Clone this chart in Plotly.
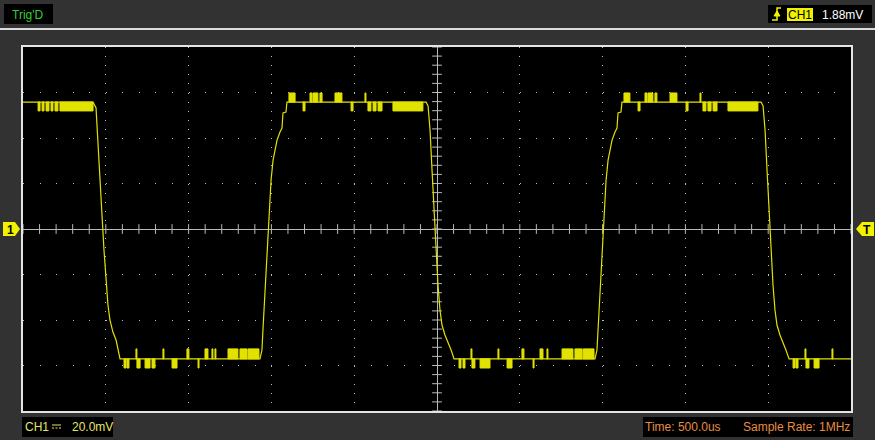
import numpy as np
import plotly.graph_objects as go

# ---------------- data (time in microseconds, voltage in mV) ----------------
wave_t = [-2500, -2077, -2059, -2047, -2035, -2023, -2011, -1999, -1987, -1975, -1957, -1938, -1926, -1914,
          -1069, -1057, -1051, -1039, -1027, -1014, -1002, -990, -978, -966, -948, -936, -930, -912, -906,
          -66, -54, -42, -30, -18, -6, 6, 18, 30, 48, 66, 85, 103,
          954, 966, 972, 984, 996, 1008, 1021, 1033, 1045, 1057, 1075, 1087, 1093, 1111, 1117,
          1957, 1969, 1981, 1993, 2005, 2017, 2029, 2041, 2053, 2071, 2089, 2107, 2126, 2500]
wave_v = [55.8, 55.8, 53.2, 39.1, 21.5, 6.2, -9.2, -22.4, -33.4, -40.0, -45.3, -48.8, -53.2, -57.1,
          -57.1, -53.2, -44.4, -26.8, -9.2, 8.4, 21.5, 30.3, 35.6, 39.1, 42.6, 44.4, 51.0, 51.4, 55.8,
          55.8, 54.1, 43.5, 25.9, 8.4, -9.2, -24.6, -35.6, -42.2, -46.6, -49.7, -53.2, -57.1,
          -57.1, -53.2, -44.4, -26.8, -9.2, 8.4, 21.5, 30.3, 35.6, 39.1, 42.6, 44.4, 51.0, 51.4, 55.8,
          55.8, 54.1, 43.5, 25.9, 8.4, -9.2, -24.6, -35.6, -42.2, -46.6, -49.7, -53.2, -57.1, -57.1]

# quantisation noise bursts: start time, end time, base level, excursion level
noise_t0 = [-2409, -2385, -2361, -2331, -2307, -2277,
            -1890, -1872, -1812, -1763, -1721, -1600, -1443,
            -1818, -1655, -1510, -1401, -1359, -1341, -1262, -1190, -1141,
            -894, -767, -749, -707, -616, -435,
            -809, -519, -417, -386, -356, -266,
            133, 157, 211, 260, 423, 580,
            205, 368, 513, 622, 664, 755, 833, 882,
            1129, 1256, 1274, 1316, 1407, 1588,
            1214, 1504, 1606, 1636, 1667, 1757,
            2150, 2168, 2228, 2277,
            2222, 2385]
noise_t1 = [-2397, -2373, -2343, -2319, -2289, -2077,
            -1878, -1860, -1793, -1733, -1703, -1570, -1437,
            -1812, -1649, -1498, -1383, -1353, -1335, -1202, -1147, -1075,
            -857, -755, -719, -694, -574, -429,
            -797, -507, -399, -368, -332, -85,
            145, 169, 229, 320, 453, 586,
            211, 374, 525, 640, 670, 821, 876, 948,
            1165, 1268, 1304, 1328, 1449, 1594,
            1226, 1516, 1624, 1655, 1691, 1938,
            2162, 2180, 2246, 2307,
            2228, 2391]
noise_base = [55.8] * 6 + [-57.1] * 7 + [-57.1] * 9 + [55.8] * 6 + [55.8] * 6 + \
             [-57.1] * 6 + [-57.1] * 8 + [55.8] * 6 + [55.8] * 6 + [-57.1] * 4 + [-57.1] * 2
noise_peak = [51.9] * 6 + [-61.1] * 7 + [-52.7] * 9 + [59.8] * 6 + [51.9] * 6 + \
             [-61.1] * 6 + [-52.7] * 8 + [59.8] * 6 + [51.9] * 6 + [-61.1] * 4 + [-52.7] * 2

x_range = [-2500, 2500]      # 500 us/div, 10 divisions
y_range = [-80, 80]          # 20 mV/div, 8 divisions

header_left = "Trig'D"
header_ch = "CH1"
header_level = "1.88mV"
footer_ch = "CH1"
footer_volts = "20.0mV"
footer_time = "Time: 500.0us"
footer_rate = "Sample Rate: 1MHz"

# ---------------- layout geometry ----------------
W, H = 875, 440
ML, MR, MT, MB = 23, 24, 47, 29
PW, PH = W - ML - MR, H - MT - MB


def fx(x):
    return (x - ML) / PW


def fy(y):
    return (H - MB - y) / PH


FONT = "Liberation Sans, Arial, sans-serif"
YEL = "#e2e200"
GRID = "#b8b8b8"

fig = go.Figure()

# crosshair tick marks (every 0.2 division)
tx = np.arange(x_range[0], x_range[1] + 1, 100)
ty = np.arange(y_range[0], y_range[1] + 1, 4)
fig.add_trace(go.Scatter(x=tx, y=np.zeros_like(tx), mode="markers",
                         marker=dict(symbol="line-ns", size=7, line=dict(color=GRID, width=1)),
                         hoverinfo="skip", showlegend=False))
fig.add_trace(go.Scatter(x=np.zeros_like(ty), y=ty, mode="markers",
                         marker=dict(symbol="line-ew", size=7, line=dict(color=GRID, width=1)),
                         hoverinfo="skip", showlegend=False))

# noise bursts as filled blocks
bx, by = [], []
for t0, t1, b, p in zip(noise_t0, noise_t1, noise_base, noise_peak):
    bx += [t0, t1, t1, t0, t0, None]
    by += [b, b, p, p, b, None]
fig.add_trace(go.Scatter(x=bx, y=by, mode="lines", fill="toself", fillcolor=YEL,
                         line=dict(color=YEL, width=1), hoverinfo="skip", showlegend=False))

# main waveform
fig.add_trace(go.Scatter(x=wave_t, y=wave_v, mode="lines",
                         line=dict(color=YEL, width=1.2), hoverinfo="skip", showlegend=False))

axis_common = dict(showticklabels=False, ticks="", showline=True, mirror=True,
                   linecolor="#e4e4e4", linewidth=2, zeroline=True,
                   zerolinecolor=GRID, zerolinewidth=1, showgrid=True, gridcolor=GRID,
                   gridwidth=1, fixedrange=True)
fig.update_xaxes(range=x_range, dtick=500, tick0=0,
                 griddash="1px,%.2fpx" % (PH / 40 - 1), **axis_common)
fig.update_yaxes(range=y_range, dtick=20, tick0=0,
                 griddash="1px,%.2fpx" % (PW / 50 - 1), **axis_common)

shapes = []
# header separator line
shapes.append(dict(type="line", xref="paper", yref="paper", x0=fx(0), x1=fx(875),
                   y0=fy(29), y1=fy(29), line=dict(color="#dcdcdc", width=2)))
# black text boxes
for (x0, y0, x1, y1) in [(4, 4, 53, 24), (768, 5, 872, 23), (22, 417, 113, 437), (643, 417, 853, 437)]:
    shapes.append(dict(type="rect", xref="paper", yref="paper", x0=fx(x0), x1=fx(x1),
                       y0=fy(y1), y1=fy(y0), fillcolor="black", line=dict(width=0)))
# yellow CH1 highlight
shapes.append(dict(type="rect", xref="paper", yref="paper", x0=fx(787), x1=fx(813),
                   y0=fy(21), y1=fy(8), fillcolor="#f2f200", line=dict(width=0)))


def path(points, close=True):
    s = "M " + " L ".join("%.5f,%.5f" % (fx(a), fy(b)) for a, b in points)
    return s + (" Z" if close else "")


# trigger edge icon
shapes.append(dict(type="path", xref="paper", yref="paper",
                   path=path([(772, 20), (777, 20), (777, 8), (781, 8)], close=False),
                   line=dict(color="#f2f200", width=1.5)))
shapes.append(dict(type="path", xref="paper", yref="paper",
                   path=path([(774, 16), (777, 11), (780, 16)]),
                   fillcolor="#f2f200", line=dict(color="#f2f200", width=1)))
# DC coupling symbol
shapes.append(dict(type="line", xref="paper", yref="paper", x0=fx(52), x1=fx(61),
                   y0=fy(425), y1=fy(425), line=dict(color="#e6e664", width=1)))
for a in (52, 55.5, 59):
    shapes.append(dict(type="line", xref="paper", yref="paper", x0=fx(a), x1=fx(a + 2),
                       y0=fy(428), y1=fy(428), line=dict(color="#e6e664", width=1)))
# channel marker and trigger marker
shapes.append(dict(type="path", xref="paper", yref="paper",
                   path=path([(3, 222), (15, 222), (20, 229), (15, 236), (3, 236)]),
                   fillcolor="#f2f200", line=dict(width=0)))
shapes.append(dict(type="path", xref="paper", yref="paper",
                   path=path([(874, 222), (862, 222), (856, 229), (862, 236), (874, 236)]),
                   fillcolor="#f2f200", line=dict(width=0)))

annotations = []


def note(text, x, y, color, anchor="left", size=12, bold=False):
    annotations.append(dict(text=("<b>%s</b>" % text) if bold else text,
                            xref="paper", yref="paper", x=fx(x), y=fy(y),
                            xanchor=anchor, yanchor="middle", showarrow=False,
                            font=dict(family=FONT, size=size, color=color)))


note(header_left, 10, 14.5, "#35cf35")
note(header_ch, 800, 14.5, "black", anchor="center")
note(header_level, 820, 14.5, "white")
note(footer_ch, 23, 427, "#e6e664")
note(footer_volts, 70, 427, "#e6e664")
note(footer_time, 643, 427, "#e88c40")
note(footer_rate, 741, 427, "#e88c40")
note("1", 10, 229.5, "black", anchor="center", bold=True)
note("T", 867, 229.5, "black", anchor="center", bold=True)

fig.update_layout(width=W, height=H, margin=dict(l=ML, r=MR, t=MT, b=MB, pad=0),
                  paper_bgcolor="#323232", plot_bgcolor="black",
                  shapes=shapes, annotations=annotations, showlegend=False)

fig.write_html("out.html", config={"displayModeBar": False},
               post_script="document.body.style.margin='0';document.body.style.background='#323232';")
